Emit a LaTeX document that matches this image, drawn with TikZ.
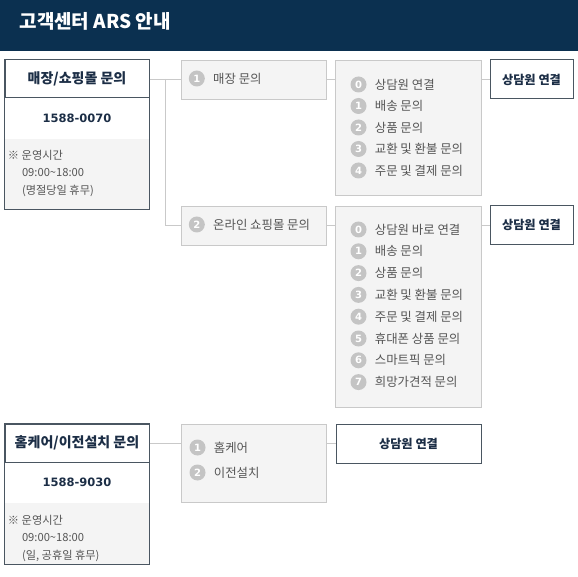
\documentclass[tikz,border=0pt]{standalone}
\usepackage{fontspec}
\setmainfont{Noto Sans CJK KR}
\newfontfamily\numfont{DejaVu Sans}
\usetikzlibrary{positioning}
\definecolor{navy}{HTML}{0B3050}
\definecolor{titletext}{HTML}{1C2E46}
\definecolor{darkline}{HTML}{4A5661}
\definecolor{lightline}{HTML}{C9C9C9}
\definecolor{lightfill}{HTML}{F4F4F4}
\definecolor{graytext}{HTML}{555555}
\definecolor{circfill}{HTML}{C4C4C4}
\tikzset{
  groupbox/.style = {shape=rectangle, draw=darkline, line width=1pt,
                     minimum width=144pt, minimum height=38pt,
                     font=\fontsize{14}{16}\selectfont\bfseries, text=titletext},
  phonebox/.style = {shape=rectangle, fill=white, minimum width=144pt,
                     minimum height=40pt, text=titletext,
                     font=\numfont\fontsize{11.5}{14}\selectfont\bfseries},
  hoursbox/.style = {shape=rectangle, fill=lightfill, minimum width=144pt},
  hourstext/.style= {anchor=north west, align=left, inner sep=0pt, text=graytext,
                     font=\fontsize{11.2}{17.5}\selectfont},
  menubox/.style  = {shape=rectangle, draw=lightline, fill=lightfill,
                     minimum width=145pt, minimum height=39pt},
  agent/.style    = {shape=rectangle, draw=darkline, fill=white, line width=1pt,
                     minimum height=39pt, text=titletext,
                     font=\fontsize{12.2}{14}\selectfont\bfseries},
  numcirc/.style  = {shape=circle, fill=circfill, text=white, minimum size=16pt,
                     inner sep=0pt, font=\numfont\fontsize{10}{10}\selectfont\bfseries},
  itemtext/.style = {anchor=west, inner sep=0pt, text=graytext,
                     font=\fontsize{12.4}{14}\selectfont},
  link/.style     = {draw=lightline, line width=0.8pt}
}
\begin{document}
\begin{tikzpicture}[x=1pt, y=-1pt]
  \useasboundingbox (0,0) rectangle (578,577);
  % header
  \node [shape=rectangle, fill=navy, minimum width=578pt, minimum height=51pt,
         inner sep=0pt, anchor=north west] (hdr) at (0,0) {};
  \node [anchor=west, text=white, font=\fontsize{19}{22}\selectfont\bfseries]
        (hdrtitle) at (16,21) {고객센터 ARS 안내};

  % store / shopping mall
  \node [groupbox] (store) at (77,79) {매장/쇼핑몰 문의};
  \node [phonebox] (storephone) [below=0pt of store] {1588-0070};
  \node [hoursbox, minimum height=70pt] (storehours) [below=0pt of storephone] {};
  \draw [darkline, line width=1pt] (store.north west) rectangle (storehours.south east);
  \node [hourstext] (storetime) at ([xshift=3pt, yshift=-11pt]storehours.north west)
        {※ 운영시간\\\hspace*{14pt}09:00\textasciitilde18:00\\\hspace*{14pt}(명절당일 휴무)};

  \node [menubox] (shop) at (253.5,79.5) {};
  \node [numcirc] (shopnum) at ([xshift=16pt, yshift=1pt]shop.west) {1};
  \node [itemtext] (shoptext) [right=8pt of shopnum] {매장 문의};

  \node [menubox, minimum width=146pt, minimum height=135pt] (shoplist) at (408,127.5) {};
  \foreach \txt [count=\i from 0] in {상담원 연결, 배송 문의, 상품 문의,
                                      교환 및 환불 문의, 주문 및 결제 문의} {
    \node [numcirc] (sa\i) at (358.5, 84.5+21.5*\i) {\i};
    \node [itemtext] (sb\i) [right=8pt of sa\i] {\txt};
  }
  \node [agent, minimum width=83pt] (shopagent) at (531.5,79.5) {상담원 연결};

  \node [menubox] (online) at (253.5,225.5) {};
  \node [numcirc] (onlinenum) at ([xshift=16pt, yshift=1pt]online.west) {2};
  \node [itemtext] (onlinetext) [right=8pt of onlinenum] {온라인 쇼핑몰 문의};

  \node [menubox, minimum width=146pt, minimum height=201pt] (onlinelist) at (408,306.5) {};
  \foreach \txt [count=\i from 0] in {상담원 바로 연결, 배송 문의, 상품 문의,
                                      교환 및 환불 문의, 주문 및 결제 문의,
                                      휴대폰 상품 문의, 스마트픽 문의, 희망가견적 문의} {
    \node [numcirc] (oa\i) at (358.5, 229.5+21.8*\i) {\i};
    \node [itemtext] (ob\i) [right=8pt of oa\i] {\txt};
  }
  \node [agent, minimum width=83pt] (onlineagent) at (531.5,225) {상담원 연결};

  \coordinate (split) at (165,0);
  \draw [link] (store.east) -- (store.east -| shop.west);
  \draw [link] (store.east -| split) |- (online.west);
  \draw [link] (shop.east) -- (shop.east -| shoplist.west);
  \draw [link] (shopagent.west -| shoplist.east) -- (shopagent.west);
  \draw [link] (online.east) -- (online.east -| onlinelist.west);
  \draw [link] (onlineagent.west -| onlinelist.east) -- (onlineagent.west);

  % home care / relocation
  \node [groupbox] (home) at (77,443) {홈케어/이전설치 문의};
  \node [phonebox] (homephone) [below=0pt of home] {1588-9030};
  \node [hoursbox, minimum height=61pt] (homehours) [below=0pt of homephone] {};
  \draw [darkline, line width=1pt] (home.north west) rectangle (homehours.south east);
  \node [hourstext] (hometime) at ([xshift=3pt, yshift=-12pt]homehours.north west)
        {※ 운영시간\\\hspace*{14pt}09:00\textasciitilde18:00\\\hspace*{14pt}(일, 공휴일 휴무)};

  \node [menubox, minimum height=78pt] (care) at (253.5,463) {};
  \foreach \txt [count=\i] in {홈케어, 이전설치} {
    \node [numcirc] (ca\i) at (197.5, 422.5+25*\i) {\i};
    \node [itemtext] (cb\i) [right=8pt of ca\i] {\txt};
  }
  \node [agent, minimum width=145pt] (careagent) at (408.5,443.5) {상담원 연결};

  \draw [link] (home.east) -- (home.east -| care.west);
  \draw [link] (careagent.west -| care.east) -- (careagent.west);
\end{tikzpicture}
\end{document}
